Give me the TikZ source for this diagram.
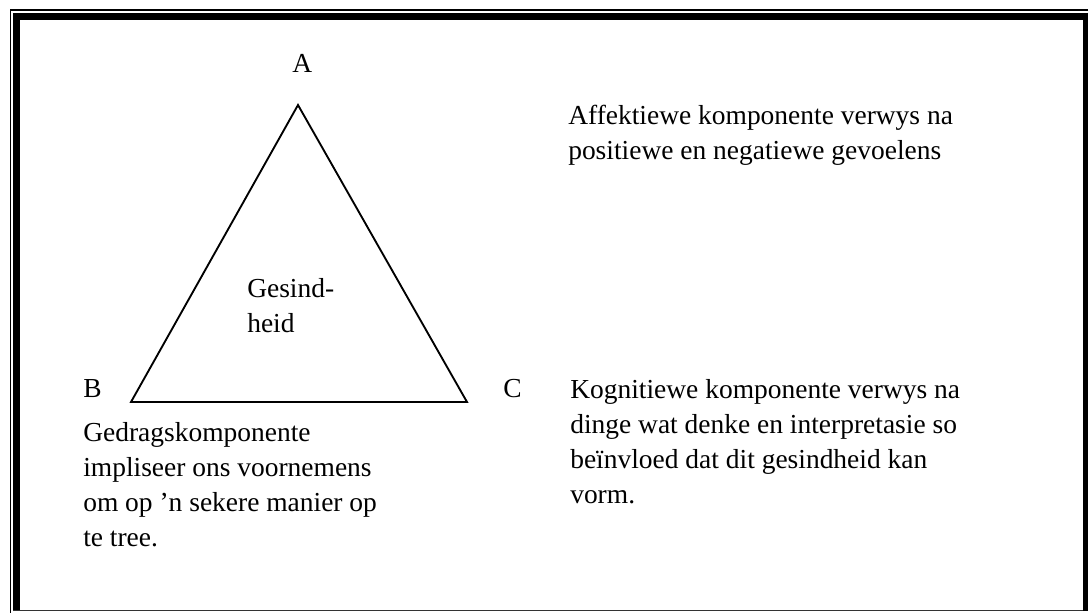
\documentclass[tikz,border=0pt]{standalone}
\usepackage{fontspec}
\setmainfont{Liberation Serif}
\usetikzlibrary{positioning}

\tikzset{
  txt/.style={font=\fontsize{20.6}{26.25}\selectfont, anchor=base west, inner sep=0pt, align=left},
  corner/.style={font=\fontsize{20.6}{26.25}\selectfont, anchor=base west, inner sep=0pt}
}

\begin{document}
\begin{tikzpicture}[x=0.75pt, y=-0.75pt]
\useasboundingbox (0,0) rectangle (1088,613);

% Frame
\draw[line width=0.9pt] (10.5,613) -- (10.5,10) -- (1088,10);
\draw[line width=5.2pt] (16.5,611) -- (16.5,16.5) -- (1088,16.5);
\draw[line width=3.8pt] (1085.5,13) -- (1085.5,611);
\draw[line width=1.4pt, black!80] (13,610.5) -- (1083,610.5);

% Triangle
\coordinate (apex) at (298,105);
\coordinate (bl) at (131,402);
\coordinate (br) at (467,402);
\draw[line width=1.4pt, line join=miter] (apex) -- (bl) -- (br) -- cycle;

% Corner labels
\node[corner] (A) at (292,73) {A};
\node[corner] (B) at (83,397) {B};
\node[corner] (C) at (503,397) {C};

% Inside (base = last line)
\node[txt] (gesind) at (247,332) {Gesind-\\heid};

% Component texts
\node[txt] (aff) at (568,160) {Affektiewe komponente verwys na\\positiewe en negatiewe gevoelens};
\node[txt] (kog) at (570,503) {Kognitiewe komponente verwys na\\dinge wat denke en interpretasie so\\beïnvloed dat dit gesindheid kan\\vorm.};
\node[txt] (ged) at (83,546) {Gedragskomponente\\impliseer ons voornemens\\om op ’n sekere manier op\\te tree.};
\end{tikzpicture}
\end{document}
